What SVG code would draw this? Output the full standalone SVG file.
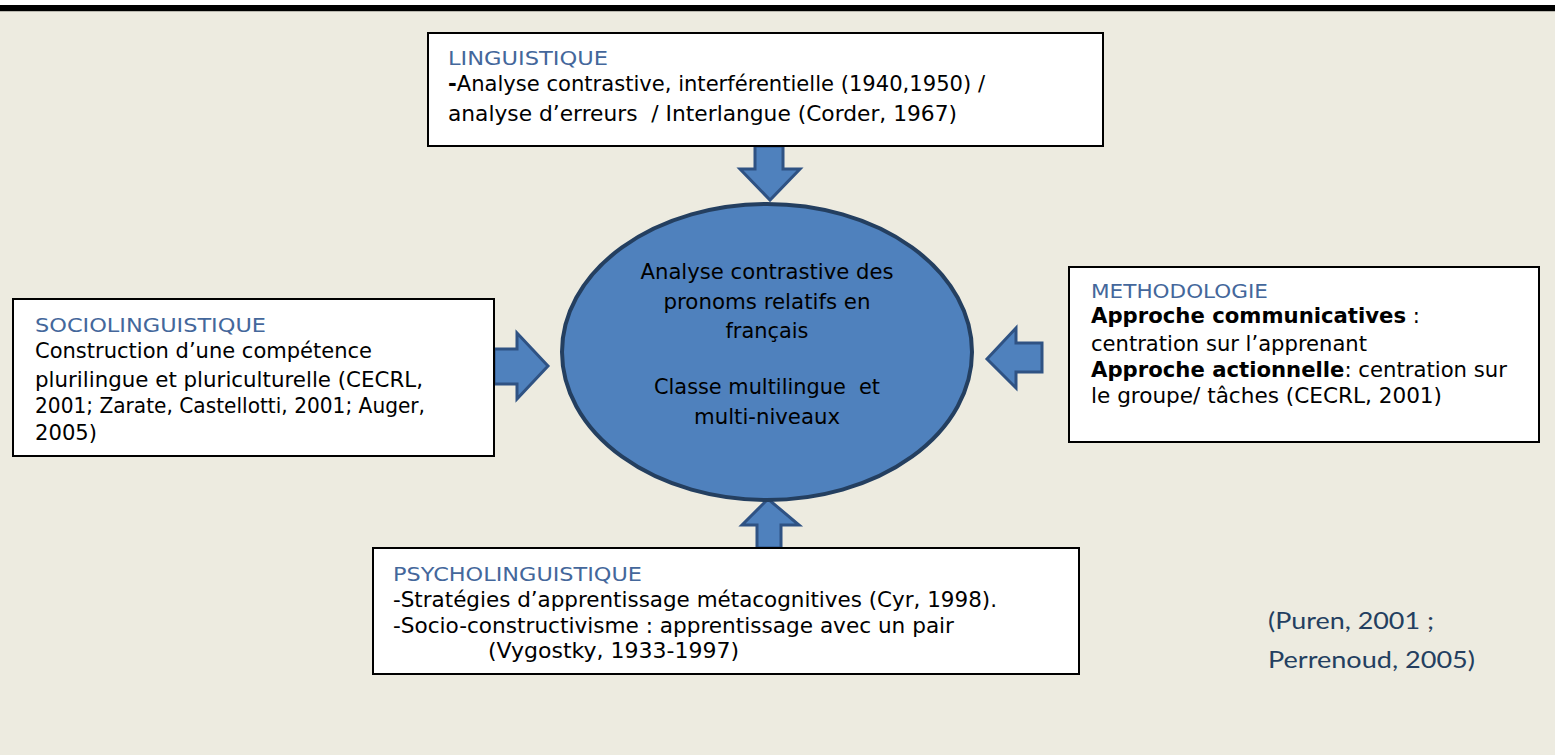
<svg xmlns="http://www.w3.org/2000/svg" width="1555" height="755" viewBox="0 0 1555 755">
<style>
.bg{fill:#EDEBE0}
.box{fill:#FFFFFF;stroke:#000000;stroke-width:2}
.arrow{fill:#4F81BD;stroke:#2F5283;stroke-width:3;stroke-linejoin:miter}
.hd{font-family:"DejaVu Sans",Verdana,sans-serif;font-size:20px;fill:#44679B}
.tx{font-family:"DejaVu Sans",Verdana,sans-serif;font-size:20.5px;fill:#000000}
.el{font-family:"DejaVu Sans",Verdana,sans-serif;font-size:21px;fill:#000000;text-anchor:middle}
.b{font-weight:bold}
.cite{font-family:Lato,"Open Sans",sans-serif;font-size:23px;fill:#243F60}
</style>
<rect x="0" y="0" width="1555" height="755" class="bg"/>
<rect x="0" y="0" width="1555" height="5" fill="#FFFFFF"/>
<rect x="0" y="5" width="1555" height="6" fill="#000000"/>
<rect x="0" y="11" width="1555" height="1" fill="#B8B6AE"/>

<g id="connectors">
  <polygon class="arrow" points="755,146 783,146 783,169 800,169 770,200 740,169 755,169"/>
  <polygon class="arrow" points="494,349 517,349 517,333 548,366 517,399 517,384 494,384"/>
  <polygon class="arrow" points="1042,343 1016,343 1016,328 987,359 1016,388 1016,372 1042,372"/>
  <polygon class="arrow" points="757,548 757,525 742,525 768,499 799,525 781,525 781,548"/>
</g>

<g id="center">
  <ellipse cx="767" cy="352" rx="205" ry="148" fill="#4F81BD" stroke="#243F60" stroke-width="4"/>
  <text class="el" x="767" y="279" textLength="253" lengthAdjust="spacingAndGlyphs">Analyse contrastive des</text>
  <text class="el" x="767" y="309" textLength="207" lengthAdjust="spacingAndGlyphs">pronoms relatifs en</text>
  <text class="el" x="767" y="338" textLength="83" lengthAdjust="spacingAndGlyphs">français</text>
  <text class="el" x="767" y="394" textLength="226" lengthAdjust="spacingAndGlyphs" xml:space="preserve">Classe multilingue  et</text>
  <text class="el" x="767" y="424" textLength="146" lengthAdjust="spacingAndGlyphs">multi-niveaux</text>
</g>

<g id="linguistique">
  <rect class="box" x="428" y="33" width="675" height="113"/>
  <text class="hd" x="448" y="65" textLength="160" lengthAdjust="spacingAndGlyphs">LINGUISTIQUE</text>
  <text class="tx" x="448" y="91" textLength="537" lengthAdjust="spacingAndGlyphs"><tspan class="b">-</tspan>Analyse contrastive, interférentielle (1940,1950) /</text>
  <text class="tx" x="448" y="121" textLength="509" lengthAdjust="spacingAndGlyphs" xml:space="preserve">analyse d’erreurs  / Interlangue (Corder, 1967)</text>
</g>

<g id="sociolinguistique">
  <rect class="box" x="13" y="299" width="481" height="157"/>
  <text class="hd" x="35" y="332" textLength="231" lengthAdjust="spacingAndGlyphs">SOCIOLINGUISTIQUE</text>
  <text class="tx" x="35" y="358" textLength="337" lengthAdjust="spacingAndGlyphs">Construction d’une compétence</text>
  <text class="tx" x="35" y="387" textLength="388" lengthAdjust="spacingAndGlyphs">plurilingue et pluriculturelle (CECRL,</text>
  <text class="tx" x="35" y="413" textLength="390" lengthAdjust="spacingAndGlyphs">2001; Zarate, Castellotti, 2001; Auger,</text>
  <text class="tx" x="35" y="440" textLength="62" lengthAdjust="spacingAndGlyphs">2005)</text>
</g>

<g id="methodologie">
  <rect class="box" x="1069" y="267" width="470" height="175"/>
  <text class="hd" x="1091" y="298" textLength="177" lengthAdjust="spacingAndGlyphs">METHODOLOGIE</text>
  <text class="tx" x="1091" y="323" textLength="329" lengthAdjust="spacingAndGlyphs"><tspan class="b">Approche communicatives</tspan> :</text>
  <text class="tx" x="1091" y="351" textLength="276" lengthAdjust="spacingAndGlyphs">centration sur l’apprenant</text>
  <text class="tx" x="1091" y="377" textLength="416" lengthAdjust="spacingAndGlyphs"><tspan class="b">Approche actionnelle</tspan>: centration sur</text>
  <text class="tx" x="1091" y="403" textLength="351" lengthAdjust="spacingAndGlyphs">le groupe/ tâches (CECRL, 2001)</text>
</g>

<g id="psycholinguistique">
  <rect class="box" x="373" y="548" width="706" height="126"/>
  <text class="hd" x="393" y="581" textLength="249" lengthAdjust="spacingAndGlyphs">PSYCHOLINGUISTIQUE</text>
  <text class="tx" x="393" y="607" textLength="604" lengthAdjust="spacingAndGlyphs">-Stratégies d’apprentissage métacognitives (Cyr, 1998).</text>
  <text class="tx" x="393" y="633" textLength="561" lengthAdjust="spacingAndGlyphs">-Socio-constructivisme : apprentissage avec un pair</text>
  <text class="tx" x="488" y="658" textLength="251" lengthAdjust="spacingAndGlyphs">(Vygostky, 1933-1997)</text>
</g>

<g id="citation">
  <text class="cite" x="1268" y="629" textLength="166" lengthAdjust="spacingAndGlyphs">(Puren, 2001 ;</text>
  <text class="cite" x="1268" y="668" textLength="207" lengthAdjust="spacingAndGlyphs">Perrenoud, 2005)</text>
</g>
</svg>
